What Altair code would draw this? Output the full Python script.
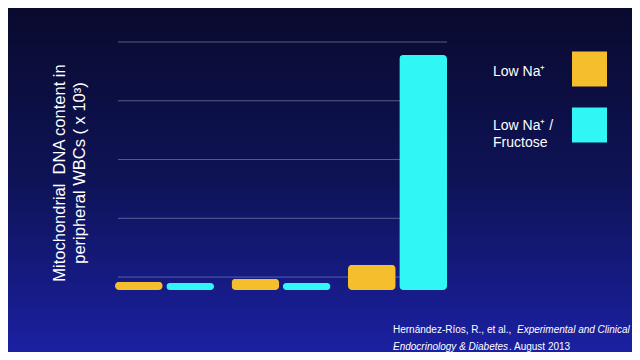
import altair as alt
import pandas as pd

# ---- data ----
groups = ["G1", "G1", "G2", "G2", "G3", "G3"]
series = ["Low Na⁺", "Low Na⁺ / Fructose"] * 3
values = [0.14, 0.12, 0.19, 0.12, 0.43, 4.0]
grid_values = [0.22, 1.22, 2.22, 3.22, 4.22]
series_names = ["Low Na⁺", "Low Na⁺ / Fructose"]
series_colors = ["#F5BE2C", "#30F6F6"]

W, H = 332, 248
PAD_L, PAD_T, PAD_R, PAD_B = 107, 34, 185, 62

bars_df = pd.DataFrame({"group": groups, "series": series, "value": values})
grid_df = pd.DataFrame({"g": grid_values})

yscale = alt.Scale(domain=[0, 4.22], nice=False, zero=True)

one = alt.Data(values=[{}])

background = alt.Chart(one).mark_rect(
    color=alt.LinearGradient(
        gradient="linear",
        stops=[
            alt.GradientStop(color="#0a0a2e", offset=0),
            alt.GradientStop(color="#0e1356", offset=0.5),
            alt.GradientStop(color="#1b20a2", offset=1),
        ],
        x1=0, x2=0, y1=0, y2=1,
    )
).encode(
    x=alt.value(-PAD_L), x2=alt.value(W + PAD_R),
    y=alt.value(-PAD_T), y2=alt.value(H + PAD_B),
)

grid = alt.Chart(grid_df).mark_rule(color="#8a8fb8", strokeWidth=1, opacity=0.6).encode(
    y=alt.Y("g:Q", scale=yscale, axis=None),
    x=alt.value(3), x2=alt.value(W),
)

bars = alt.Chart(bars_df).mark_bar(cornerRadius=4).encode(
    x=alt.X("group:N", axis=None, sort=["G1", "G2", "G3"],
            scale=alt.Scale(paddingInner=0.15, paddingOuter=0)),
    xOffset=alt.XOffset("series:N", sort=series_names,
                        scale=alt.Scale(paddingInner=0.07, paddingOuter=0)),
    y=alt.Y("value:Q", scale=yscale, axis=None),
    color=alt.Color("series:N", scale=alt.Scale(domain=series_names, range=series_colors),
                    legend=None),
)

ytitle = alt.Chart(one).mark_text(
    text=["Mitochondrial\u00a0 DNA content in", "peripheral WBCs ( x 10³)"],
    angle=270, align="center", baseline="middle", lineHeight=20,
    font="Liberation Sans", fontSize=16.5, color="white",
).encode(x=alt.value(-55), y=alt.value(131))

legend_font = dict(font="Liberation Sans", fontSize=14, color="white", align="left", baseline="middle")
leg_t1 = alt.Chart(one).mark_text(text="Low Na⁺", **legend_font).encode(x=alt.value(378), y=alt.value(30))
leg_t2 = alt.Chart(one).mark_text(text=["Low Na⁺ /", "Fructose"], lineHeight=17, **legend_font).encode(
    x=alt.value(378), y=alt.value(84))
leg_s1 = alt.Chart(one).mark_square(size=1225, color=series_colors[0], opacity=1).encode(
    x=alt.value(474.5), y=alt.value(27))
leg_s2 = alt.Chart(one).mark_square(size=1225, color=series_colors[1], opacity=1).encode(
    x=alt.value(474.5), y=alt.value(83))

cite = dict(font="Liberation Sans", fontSize=10, color="white", align="left", baseline="middle")
c1 = alt.Chart(one).mark_text(text="Hernández-Ríos, R., et al.,", **cite).encode(x=alt.value(278), y=alt.value(288))
c2 = alt.Chart(one).mark_text(text="Experimental and Clinical", fontStyle="italic", **cite).encode(
    x=alt.value(402), y=alt.value(288))
c3 = alt.Chart(one).mark_text(text="Endocrinology & Diabetes", fontStyle="italic", **cite).encode(
    x=alt.value(278), y=alt.value(305))
c4 = alt.Chart(one).mark_text(text=". August 2013", **cite).encode(x=alt.value(394), y=alt.value(305))

chart = alt.layer(
    background, grid, bars, ytitle, leg_t1, leg_t2, leg_s1, leg_s2, c1, c2, c3, c4
).properties(
    width=W, height=H,
    autosize=alt.AutoSizeParams(type="none"),
    padding={"left": PAD_L, "top": PAD_T, "right": PAD_R, "bottom": PAD_B},
    background="#0e1356",
).configure_view(stroke=None)

chart.save("out.html", embed_options={"renderer": "svg", "actions": False})
